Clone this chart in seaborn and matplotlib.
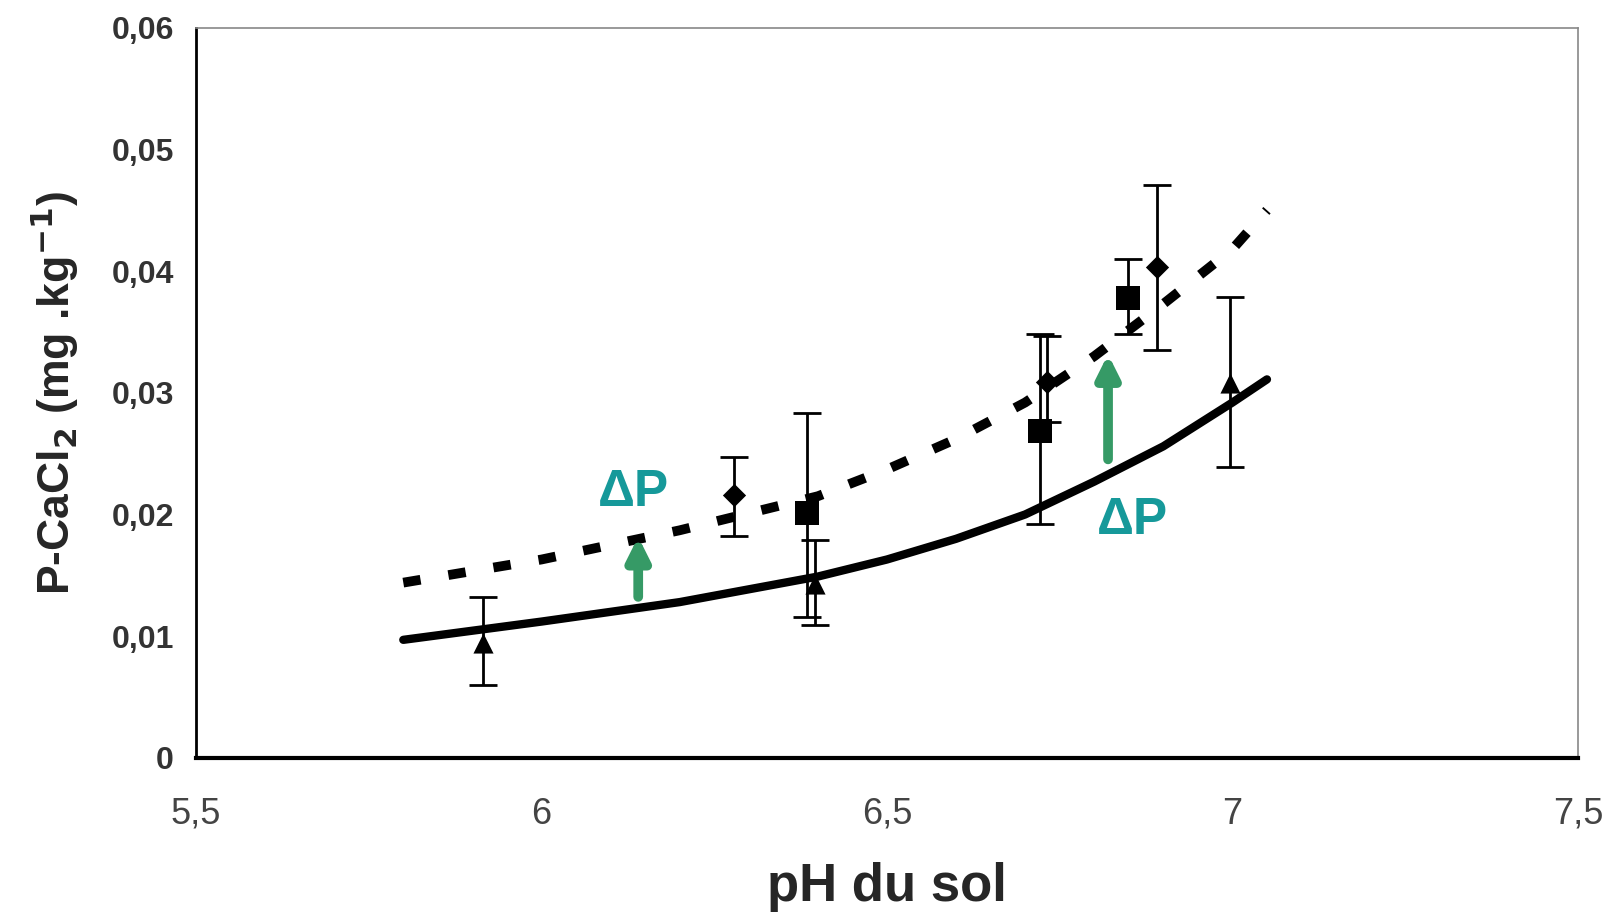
import numpy as np
import pandas as pd
import matplotlib
matplotlib.use("Agg")
import matplotlib.pyplot as plt
import seaborn as sns
from matplotlib import font_manager

# fitted curves
curve_ph = [5.8, 6.0, 6.2, 6.4, 6.5, 6.6, 6.7, 6.8, 6.9, 7.0, 7.05]
curve_solid = [0.0097, 0.0112, 0.0128, 0.0149, 0.0163, 0.0180, 0.0200, 0.0227, 0.0256, 0.0292, 0.0311]
curve_dashed = [0.0144, 0.0163, 0.0187, 0.0215, 0.0237, 0.0262, 0.0292, 0.0330, 0.0373, 0.0418, 0.0450]

# measured points with error bars
tri_ph = [5.916, 6.396, 6.996]
tri_p = [0.0094, 0.0143, 0.0308]
tri_lo = [0.0060, 0.0109, 0.0239]
tri_hi = [0.0132, 0.0179, 0.0379]

sq_ph = [6.384, 6.722, 6.849]
sq_p = [0.0201, 0.0269, 0.0378]
sq_lo = [0.0116, 0.0192, 0.0348]
sq_hi = [0.0283, 0.0348, 0.0410]

dia_ph = [6.278, 6.731, 6.891]
dia_p = [0.0216, 0.0309, 0.0403]
dia_lo = [0.0182, 0.0276, 0.0335]
dia_hi = [0.0247, 0.0347, 0.0471]

x_ticks = [5.5, 6, 6.5, 7, 7.5]
x_labels = ["5,5", "6", "6,5", "7", "7,5"]
y_ticks = [0, 0.01, 0.02, 0.03, 0.04, 0.05, 0.06]
y_labels = ["0", "0,01", "0,02", "0,03", "0,04", "0,05", "0,06"]

sns.set_style("white")
plt.rcParams['font.family'] = ['Liberation Sans', 'DejaVu Sans']
names = {f.name for f in font_manager.fontManager.ttflist}
narrow = 'Liberation Sans Narrow' if 'Liberation Sans Narrow' in names else 'Liberation Sans'

fig = plt.figure(figsize=(16.2, 9.22), dpi=100)
ax = fig.add_axes([0.121, 0.178, 0.853, 0.792])

curves = pd.DataFrame({"pH": curve_ph, "solid": curve_solid, "dashed": curve_dashed})
sns.lineplot(data=curves, x="pH", y="solid", ax=ax, color="black", lw=6, zorder=2)
sns.lineplot(data=curves, x="pH", y="dashed", ax=ax, color="black", lw=7, zorder=2)
ax.lines[-1].set_dashes([1.8, 2.9])

for xs, ys, lo, hi, mk, ms in [(tri_ph, tri_p, tri_lo, tri_hi, "^", 210),
                                (sq_ph, sq_p, sq_lo, sq_hi, "s", 280),
                                (dia_ph, dia_p, dia_lo, dia_hi, "D", 140)]:
    yerr = [np.array(ys) - np.array(lo), np.array(hi) - np.array(ys)]
    ax.errorbar(xs, ys, yerr=yerr, fmt="none", ecolor="black", elinewidth=2,
                capsize=10, capthick=2, zorder=3)
    sns.scatterplot(x=xs, y=ys, ax=ax, marker=mk, s=ms, color="black",
                    edgecolor="black", linewidth=0, zorder=4)

# Delta P arrows and labels
green = "#369a66"
teal = "#16999a"
arrow = dict(arrowstyle="-|>,head_length=1.3,head_width=0.65", color=green, lw=7)
ax.annotate("", xy=(6.14, 0.0184), xytext=(6.14, 0.0130), arrowprops=arrow)
ax.annotate("", xy=(6.82, 0.0334), xytext=(6.82, 0.0243), arrowprops=arrow)
ax.text(6.133, 0.0218, "ΔP", color=teal, fontsize=37, fontweight="bold", ha="center", va="center")
ax.text(6.855, 0.0195, "ΔP", color=teal, fontsize=37, fontweight="bold", ha="center", va="center")

ax.set_xlim(5.5, 7.5)
ax.set_ylim(0, 0.06)
ax.set_xticks(x_ticks)
ax.set_xticklabels(x_labels, fontsize=26, color="#444444", family=narrow)
ax.set_yticks(y_ticks)
ax.set_yticklabels(y_labels, fontsize=23, color="#333333", fontweight="bold")
ax.tick_params(axis="both", direction="out", length=10, width=1.5, color="black")
ax.tick_params(axis="x", pad=18)
ax.tick_params(axis="y", pad=6)

for side in ["left", "bottom"]:
    ax.spines[side].set_color("black")
    ax.spines[side].set_linewidth(2)
ax.spines["bottom"].set_linewidth(3)
for side in ["top", "right"]:
    ax.spines[side].set_color("#888888")
    ax.spines[side].set_linewidth(1.2)

ax.set_xlabel("pH du sol", fontsize=38, fontweight="bold", labelpad=22)
ax.set_ylabel("P-CaCl$_\\mathbf{2}$ (mg .kg$^\\mathbf{-1}$)", fontsize=32, fontweight="bold", labelpad=22)

fig.savefig("out.png", dpi=100)
